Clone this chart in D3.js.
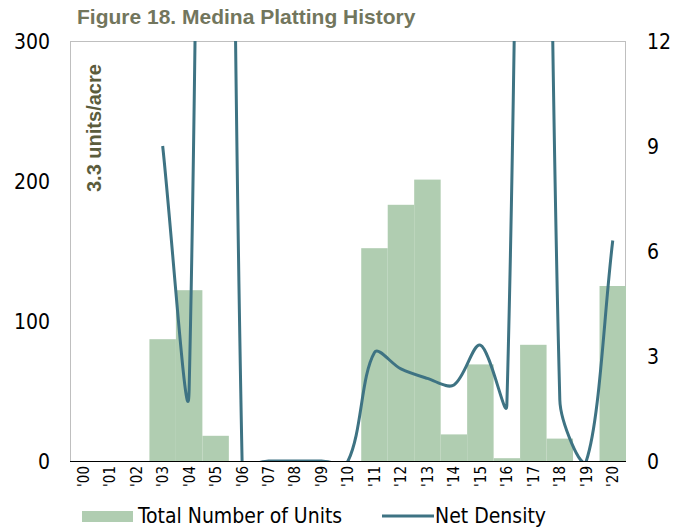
<!DOCTYPE html>
<html>
<head>
<meta charset="utf-8">
<script src="https://cdn.jsdelivr.net/npm/d3@7"></script>
<style>
  body { margin: 0; background: #fff; }
  .lbl { font-family: "DejaVu Sans Condensed", Tahoma, "DejaVu Sans", sans-serif; fill: #000; }
  .ttl { font-family: "Liberation Sans", Arial, sans-serif; font-weight: bold; }
</style>
</head>
<body>
<div id="chart"></div>
<script>
const years = ["'00","'01","'02","'03","'04","'05","'06","'07","'08","'09","'10",
               "'11","'12","'13","'14","'15","'16","'17","'18","'19","'20"];
const units = [0, 0, 0, 87, 122, 18, 0, 0, 0, 0, 0,
               152, 183, 201, 19, 69, 2, 83, 16, 0, 125];
const density = [null, null, null, 9.0, 2.05, 75, 0, 0, 0, 0, 0,
                 3.1, 2.63, 2.36, 2.17, 3.31, 1.6, 58, 1.75, 0, 6.3];
const leftTicks = [0, 100, 200, 300];
const rightTicks = [0, 3, 6, 9, 12];

const W = 685, H = 529;
const plotL = 70, plotR = 626, plotT = 41, plotB = 461;

// smoothed bezier like the spreadsheet one: tangents scaled by chord lengths
function curveSmooth(context) {
  let pts;
  const dist = (a, b) => Math.hypot(b[0] - a[0], b[1] - a[1]);
  return {
    areaStart() {}, areaEnd() {},
    lineStart() { pts = []; },
    point(x, y) { pts.push([+x, +y]); },
    lineEnd() {
      const n = pts.length;
      if (!n) return;
      context.moveTo(pts[0][0], pts[0][1]);
      for (let i = 0; i < n - 1; i++) {
        const p0 = pts[Math.max(i - 1, 0)], p1 = pts[i], p2 = pts[i + 1], p3 = pts[Math.min(i + 2, n - 1)];
        const d01 = dist(p0, p1), d12 = dist(p1, p2), d23 = dist(p2, p3);
        const f1 = d12 / (d01 + d12) / 3, f2 = d12 / (d12 + d23) / 3;
        context.bezierCurveTo(
          p1[0] + (p2[0] - p0[0]) * f1, p1[1] + (p2[1] - p0[1]) * f1,
          p2[0] - (p3[0] - p1[0]) * f2, p2[1] - (p3[1] - p1[1]) * f2,
          p2[0], p2[1]);
      }
    }
  };
}

var svg = d3.select("#chart").append("svg")
    .attr("width", W)
    .attr("height", H)

svg.append("text")
    .attr("class", "ttl")
    .attr("x", 77)
    .attr("y", 24)
    .attr("fill", "#72765d")
    .style("font-size", "21px")
    .text("Figure 18. Medina Platting History")

const x = d3.scaleBand().domain(years).range([plotL, plotR]).padding(0);
const yL = d3.scaleLinear().domain([0, 300]).range([plotB, plotT]);
const yR = d3.scaleLinear().domain([0, 12]).range([plotB, plotT]);

svg.append("defs").append("clipPath").attr("id", "plotclip")
  .append("rect")
    .attr("x", plotL).attr("y", plotT)
    .attr("width", plotR - plotL).attr("height", plotB - plotT)

// plot frame
svg.append("rect")
    .attr("x", plotL + 0.5).attr("y", plotT + 0.5)
    .attr("width", plotR - plotL - 1).attr("height", plotB - plotT)
    .attr("fill", "none")
    .attr("stroke", "#bfbfbf")

// bars
svg.append("g")
  .selectAll("rect")
  .data(years.map((y, i) => ({year: y, v: units[i]})))
  .enter().append("rect")
    .attr("x", d => x(d.year))
    .attr("y", d => yL(d.v))
    .attr("width", x.bandwidth())
    .attr("height", d => plotB - yL(d.v))
    .attr("fill", "#b0cdb1")

// x axis line
svg.append("line")
    .attr("x1", plotL).attr("x2", plotR)
    .attr("y1", plotB + 0.5).attr("y2", plotB + 0.5)
    .attr("stroke", "#000")

// line
const lineGen = d3.line()
    .defined(d => d.v !== null)
    .x(d => x(d.year) + x.bandwidth() / 2)
    .y(d => yR(d.v))
    .curve(curveSmooth);

svg.append("path")
    .attr("clip-path", "url(#plotclip)")
    .attr("d", lineGen(years.map((y, i) => ({year: y, v: density[i]}))))
    .attr("fill", "none")
    .attr("stroke", "#3e7383")
    .attr("stroke-width", 3)

// left axis labels
svg.append("g").selectAll("text")
  .data(leftTicks)
  .enter().append("text")
    .attr("class", "lbl")
    .attr("x", 50)
    .attr("y", d => yL(d))
    .attr("dy", "0.36em")
    .attr("text-anchor", "end")
    .style("font-size", "21px")
    .text(d => d)

// right axis labels
svg.append("g").selectAll("text")
  .data(rightTicks)
  .enter().append("text")
    .attr("class", "lbl")
    .attr("x", 647)
    .attr("y", d => yR(d))
    .attr("dy", "0.36em")
    .style("font-size", "21px")
    .text(d => d)

// x tick labels
svg.append("g").selectAll("text")
  .data(years)
  .enter().append("text")
    .attr("class", "lbl")
    .attr("transform", d => `translate(${x(d) + x.bandwidth() / 2},${plotB + 5}) rotate(-90)`)
    .attr("dy", "0.36em")
    .attr("text-anchor", "end")
    .style("font-size", "15px")
    .text(d => d)

// annotation
svg.append("text")
    .attr("class", "ttl")
    .attr("transform", "translate(101,192) rotate(-90)")
    .attr("fill", "#5b5c3c")
    .style("font-size", "20px")
    .text("3.3 units/acre")

// legend
const lg = svg.append("g")
lg.append("rect")
    .attr("x", 82).attr("y", 511)
    .attr("width", 51).attr("height", 11)
    .attr("fill", "#b0cdb1")
lg.append("text")
    .attr("class", "lbl")
    .attr("x", 138).attr("y", 523)
    .style("font-size", "21px")
    .text("Total Number of Units")
lg.append("line")
    .attr("x1", 382).attr("x2", 434)
    .attr("y1", 516).attr("y2", 516)
    .attr("stroke", "#3e7383")
    .attr("stroke-width", 3)
lg.append("text")
    .attr("class", "lbl")
    .attr("x", 435).attr("y", 523)
    .style("font-size", "21px")
    .text("Net Density")
</script>
</body>
</html>
